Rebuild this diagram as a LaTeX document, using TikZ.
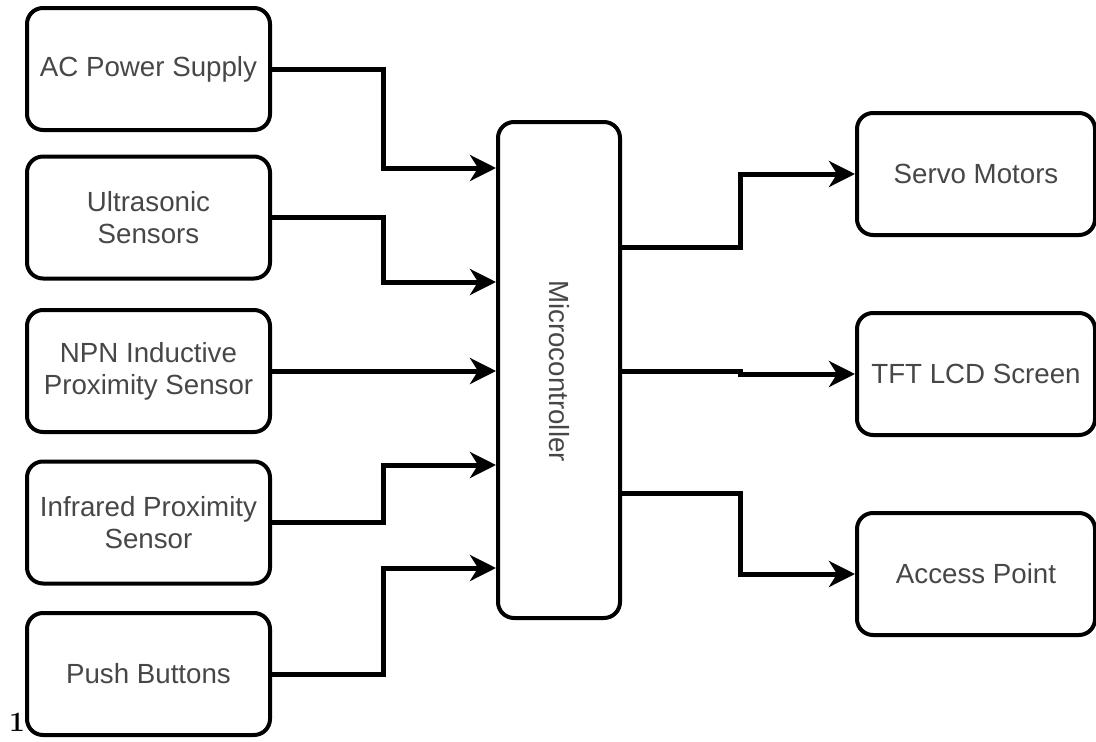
\documentclass[tikz,border=0pt]{standalone}
\usepackage{fontspec}
\usepackage{tikz}
\usetikzlibrary{arrows.meta}
\newfontfamily\boxfont{Liberation Sans}

\begin{document}
\begin{tikzpicture}[
		x=1pt, y=-1pt,
		every node/.style={rectangle, rounded corners=16pt, draw, line width=4pt,
			align=center, text=black!72, font=\boxfont\fontsize{27.7}{32}\selectfont},
		inbox/.style={minimum width=243pt, minimum height=122pt},
		outbox/.style={minimum width=238pt, minimum height=122pt},
		wire/.style={line width=5pt, -{Stealth[length=26pt, width=26pt, inset=8pt]}}
	]
  \useasboundingbox (0,0) rectangle (1096,742);
  \node (ac) [inbox] at (148.5,69) {AC Power Supply};
  \node (ultra) [inbox] at (148.5,217.5) {Ultrasonic\\Sensors};
  \node (npn) [inbox] at (148.5,371) {NPN Inductive\\Proximity Sensor};
  \node (ir) [inbox] at (148.5,522.5) {Infrared Proximity\\Sensor};
  \node (push) [inbox] at (148.5,674) {Push Buttons};
  \node (mcu) [minimum width=122pt, minimum height=496pt] at (559,370) {};
  \node (mcu_label) [draw=none, rotate=-90] at (559,371) {Microcontroller};
  \node (servo) [outbox] at (976,174) {Servo Motors};
  \node (tft) [outbox] at (976,374) {TFT LCD Screen};
  \node (ap) [outbox] at (976,574) {Access Point};
  \node (num) [draw=none, text=black, font=\fontsize{28}{28}\selectfont\bfseries] at (17,722) {1};
  \draw[wire] (ac.east) -| (383,168) -- (mcu.west |- 0,168);
  \draw[wire] (ultra.east) -| (383,282) -- (mcu.west |- 0,282);
  \draw[wire] (npn.east) -- (mcu.west |- npn.east);
  \draw[wire] (ir.east) -| (383,465) -- (mcu.west |- 0,465);
  \draw[wire] (push.east) -| (383,568) -- (mcu.west |- 0,568);
  \draw[wire] (mcu.east |- 0,247) -| (740,174) -- (servo.west);
  \draw[wire] (mcu.east |- 0,371) -- (740,371) -- (740,374) -- (tft.west);
  \draw[wire] (mcu.east |- 0,493) -| (740,574) -- (ap.west);
\end{tikzpicture}
\end{document}
